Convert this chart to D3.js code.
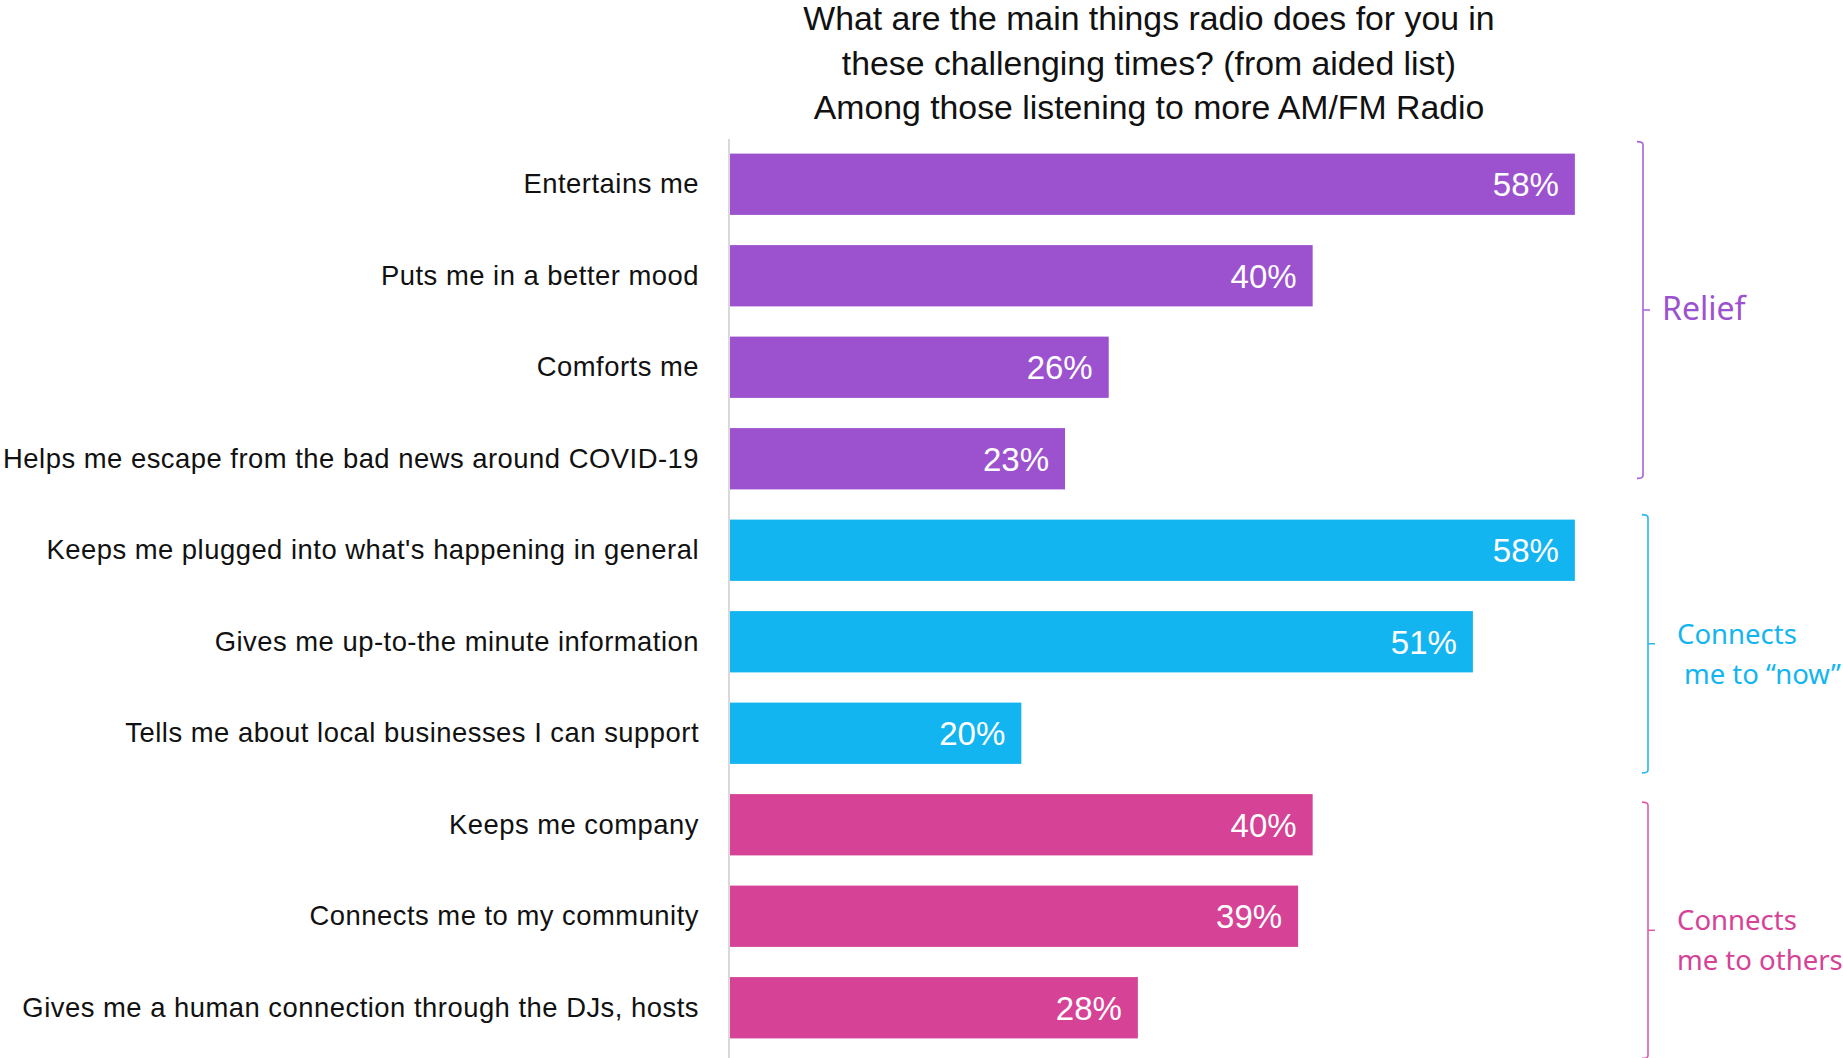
<!DOCTYPE html>
<html>
<head>
<meta charset="utf-8">
<script src="https://cdn.jsdelivr.net/npm/d3@7"></script>
<style>
  html, body { margin: 0; padding: 0; background: #ffffff; }
  svg { display: block; }
</style>
</head>
<body>
<script>
// Survey answers, in display order (top to bottom)
const categories = [
  "Entertains me",
  "Puts me in a better mood",
  "Comforts me",
  "Helps me escape from the bad news around COVID-19",
  "Keeps me plugged into what's happening in general",
  "Gives me up-to-the minute information",
  "Tells me about local businesses I can support",
  "Keeps me company",
  "Connects me to my community",
  "Gives me a human connection through the DJs, hosts"
];
// Share of respondents (%)
const values = [58, 40, 26, 23, 58, 51, 20, 40, 39, 28];
// Theme each answer belongs to (index into themeNames)
const themeOfBar = [0, 0, 0, 0, 1, 1, 1, 2, 2, 2];
const themeNames = [["Relief"], ["Connects", "me to “now”"], ["Connects", "me to others"]];
const themeColors = ["#9C52CE", "#13B5F1", "#D54296"];
const bracketColors = ["#A862D8", "#2AB6EE", "#DE5CA8"];
const titleLines = [
  "What are the main things radio does for you in",
  "these challenging times? (from aided list)",
  "Among those listening to more AM/FM Radio"
];

const W = 1843, H = 1058;
const svg = d3.select("body").append("svg")
  .attr("width", W).attr("height", H)
  .attr("viewBox", `0 0 ${W} ${H}`);

const x = d3.scaleLinear().domain([0, 60]).range([730, 1604]);
const y = d3.scaleBand().domain(categories)
  .range([138.5, 138.5 + 915])
  .paddingInner(0.33).paddingOuter(0.165);

// Title
svg.append("g").selectAll("text").data(titleLines).join("text")
  .attr("x", 1149).attr("y", (d, i) => 30 + i * 44.5)
  .attr("text-anchor", "middle")
  .attr("font-family", "'Liberation Sans', Arial, sans-serif")
  .attr("font-size", 33.8)
  .attr("fill", "#111")
  .text(d => d);

// Bars
svg.append("g").selectAll("rect").data(categories).join("rect")
  .attr("x", x(0))
  .attr("y", d => y(d))
  .attr("width", (d, i) => x(values[i]) - x(0))
  .attr("height", y.bandwidth())
  .attr("fill", (d, i) => themeColors[themeOfBar[i]]);

// Value labels inside the bar ends
svg.append("g").selectAll("text").data(categories).join("text")
  .attr("x", (d, i) => x(values[i]) - 16)
  .attr("y", d => y(d) + y.bandwidth() / 2)
  .attr("dy", "0.36em")
  .attr("text-anchor", "end")
  .attr("font-family", "'Liberation Sans', Arial, sans-serif")
  .attr("font-size", 33)
  .attr("fill", "#ffffff")
  .text((d, i) => values[i] + "%");

// Category axis: labels only, with a light baseline
const yAxis = d3.axisLeft(y).tickSize(0).tickPadding(30);
const ag = svg.append("g").attr("transform", `translate(729,0)`).call(yAxis);
ag.select(".domain").remove();
ag.selectAll("text")
  .attr("font-family", "'Liberation Sans', Arial, sans-serif")
  .attr("font-size", 27.4)
  .attr("letter-spacing", "0.5px")
  .attr("fill", "#111");
svg.append("line")
  .attr("x1", 729).attr("x2", 729)
  .attr("y1", 139).attr("y2", H)
  .attr("stroke", "#D9D9D9").attr("stroke-width", 2);

// Theme brackets on the right
const themeLayout = [
  { bx: 1643, tx: 1662, topOff: -12, botOff: -11, size: 32 },
  { bx: 1648, tx: 1677, topOff: -5, botOff: 9, size: 27.5 },
  { bx: 1648, tx: 1677, topOff: 8, botOff: 20, size: 27.5 }
];
themeNames.forEach((lines, t) => {
  const idx = themeOfBar.map((g, i) => g === t ? i : -1).filter(i => i >= 0);
  const L = themeLayout[t];
  const top = y(categories[idx[0]]) + L.topOff;
  const bot = y(categories[idx[idx.length - 1]]) + y.bandwidth() + L.botOff;
  const mid = (top + bot) / 2;
  const bx = L.bx;
  const p = d3.path();
  p.moveTo(bx - 6, top);
  p.quadraticCurveTo(bx, top, bx, top + 3);
  p.lineTo(bx, bot - 3);
  p.quadraticCurveTo(bx, bot, bx - 6, bot);
  p.moveTo(bx, mid);
  p.lineTo(bx + 7, mid);
  svg.append("path").attr("d", p.toString())
    .attr("fill", "none")
    .attr("stroke", bracketColors[t])
    .attr("stroke-width", 1.6);

  const tg = svg.append("text")
    .attr("font-family", "'Noto Sans', 'Open Sans', sans-serif")
    .attr("font-size", L.size)
    .attr("fill", themeColors[t]);
  if (lines.length === 1) {
    tg.append("tspan").attr("x", L.tx).attr("y", mid + 10).text(lines[0]);
  } else {
    lines.forEach((ln, k) => {
      tg.append("tspan")
        .attr("x", L.tx + (t === 1 && k === 1 ? 7 : 0))
        .attr("y", mid + k * 40)
        .text(ln);
    });
  }
});
</script>
</body>
</html>
